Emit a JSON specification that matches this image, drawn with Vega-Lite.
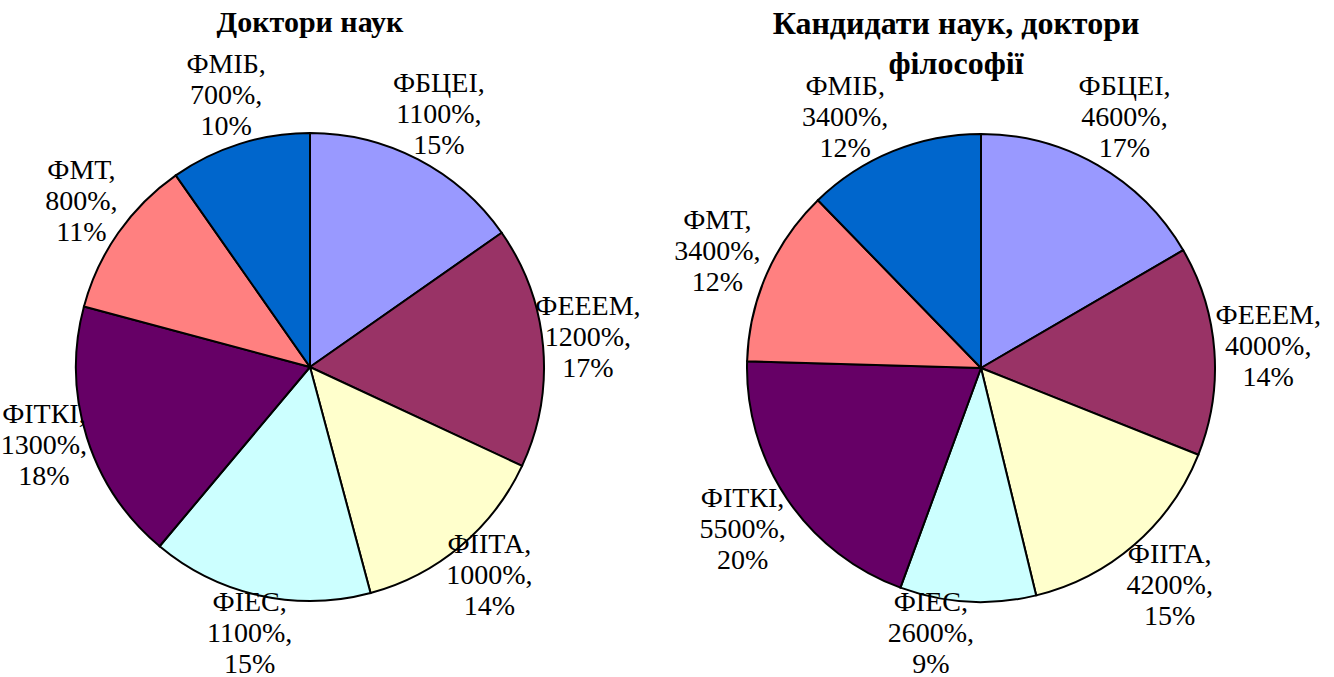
{
  "$schema": "https://vega.github.io/schema/vega-lite/v6.json",
  "padding": {"top": 8, "left": 0, "right": 0, "bottom": 0},
  "background": "white",
  "spacing": 57,
  "bounds": "flush",
  "config": {"view": {"stroke": null}, "font": "Liberation Serif"},
  "datasets": {
    "doctors": [
      {"faculty": "ФБЦЕІ", "value": 11, "k": 1, "label": "ФБЦЕІ,\n1100%,\n15%"},
      {"faculty": "ФЕЕЕМ", "value": 12, "k": 2, "label": "ФЕЕЕМ,\n1200%,\n17%"},
      {"faculty": "ФІІТА", "value": 10, "k": 3, "label": "ФІІТА,\n1000%,\n14%"},
      {"faculty": "ФІЕС", "value": 11, "k": 4, "label": "ФІЕС,\n1100%,\n15%"},
      {"faculty": "ФІТКІ", "value": 13, "k": 5, "label": "ФІТКІ,\n1300%,\n18%"},
      {"faculty": "ФМТ", "value": 8, "k": 6, "label": "ФМТ,\n800%,\n11%"},
      {"faculty": "ФМІБ", "value": 7, "k": 7, "label": "ФМІБ,\n700%,\n10%"}
    ],
    "candidates": [
      {"faculty": "ФБЦЕІ", "value": 46, "k": 1, "label": "ФБЦЕІ,\n4600%,\n17%"},
      {"faculty": "ФЕЕЕМ", "value": 40, "k": 2, "label": "ФЕЕЕМ,\n4000%,\n14%"},
      {"faculty": "ФІІТА", "value": 42, "k": 3, "label": "ФІІТА,\n4200%,\n15%"},
      {"faculty": "ФІЕС", "value": 26, "k": 4, "label": "ФІЕС,\n2600%,\n9%"},
      {"faculty": "ФІТКІ", "value": 55, "k": 5, "label": "ФІТКІ,\n5500%,\n20%"},
      {"faculty": "ФМТ", "value": 34, "k": 6, "label": "ФМТ,\n3400%,\n12%"},
      {"faculty": "ФМІБ", "value": 34, "k": 7, "label": "ФМІБ,\n3400%,\n12%"}
    ]
  },
  "hconcat": [
    {
      "width": 614,
      "height": 676,
      "title": {"text": "Доктори наук", "offset": -33, "baseline": "alphabetic", "fontSize": 30, "fontWeight": "bold", "font": "Liberation Serif", "anchor": "middle", "frame": "group", "color": "black"},
      "data": {"name": "doctors"},
      "encoding": {
        "theta": {"field": "value", "type": "quantitative", "stack": true},
        "order": {"field": "k", "type": "quantitative"}
      },
      "layer": [
        {
          "mark": {"type": "arc", "outerRadius": 234, "stroke": "black", "strokeWidth": 2},
          "encoding": {
            "color": {"field": "faculty", "type": "nominal", "legend": null,
              "scale": {"domain": ["ФБЦЕІ", "ФЕЕЕМ", "ФІІТА", "ФІЕС", "ФІТКІ", "ФМТ", "ФМІБ"],
                        "range": ["#9999FF", "#993366", "#FFFFCC", "#CCFFFF", "#660066", "#FF8080", "#0066CC"]}}
          }
        },
        {
          "mark": {"type": "text", "radius": 279, "dy": -36, "fontSize": 28, "lineBreak": "\n", "lineHeight": 31, "font": "Liberation Serif", "color": "black", "baseline": "middle", "align": "center"},
          "encoding": {"text": {"field": "label", "type": "nominal"}}
        }
      ]
    },
    {
      "width": 614,
      "height": 678,
      "title": {"text": ["Кандидати наук, доктори", "філософії"], "offset": -77, "baseline": "alphabetic", "lineHeight": 40, "dx": -25, "fontSize": 32, "fontWeight": "bold", "font": "Liberation Serif", "anchor": "middle", "frame": "group", "color": "black"},
      "data": {"name": "candidates"},
      "encoding": {
        "theta": {"field": "value", "type": "quantitative", "stack": true},
        "order": {"field": "k", "type": "quantitative"}
      },
      "layer": [
        {
          "mark": {"type": "arc", "outerRadius": 234, "stroke": "black", "strokeWidth": 2},
          "encoding": {
            "color": {"field": "faculty", "type": "nominal", "legend": null,
              "scale": {"domain": ["ФБЦЕІ", "ФЕЕЕМ", "ФІІТА", "ФІЕС", "ФІТКІ", "ФМТ", "ФМІБ"],
                        "range": ["#9999FF", "#993366", "#FFFFCC", "#CCFFFF", "#660066", "#FF8080", "#0066CC"]}}
          }
        },
        {
          "mark": {"type": "text", "radius": 288, "dy": -31, "fontSize": 28, "lineBreak": "\n", "lineHeight": 31, "font": "Liberation Serif", "color": "black", "baseline": "middle", "align": "center"},
          "encoding": {"text": {"condition": {"test": "datum.faculty !== 'ФМІБ' && datum.faculty !== 'ФІЕС'", "field": "label", "type": "nominal"}, "value": ""}}
        },
        {
          "mark": {"type": "text", "radius": 268, "dx": -35, "dy": -33, "fontSize": 28, "lineBreak": "\n", "lineHeight": 31, "font": "Liberation Serif", "color": "black", "baseline": "middle", "align": "center"},
          "encoding": {"text": {"condition": {"test": "datum.faculty === 'ФМІБ' || datum.faculty === 'ФІЕС'", "field": "label", "type": "nominal"}, "value": ""}}
        }
      ]
    }
  ]
}
